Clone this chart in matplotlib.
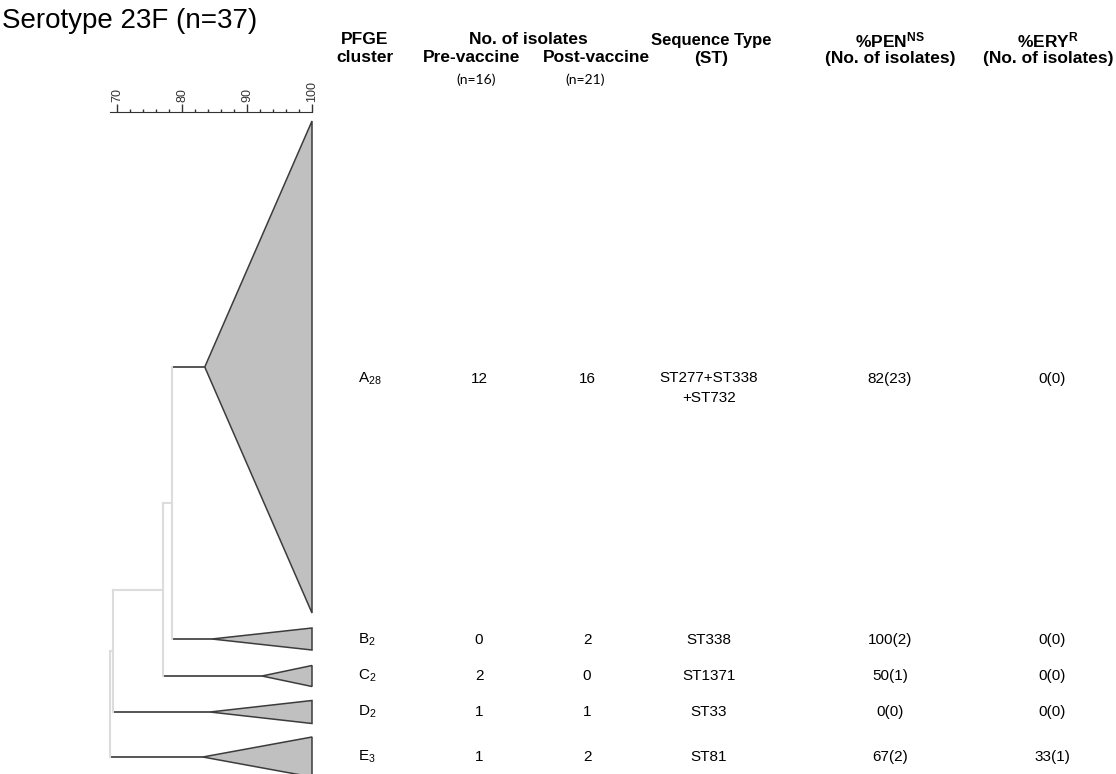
import matplotlib
matplotlib.use('Agg')
import matplotlib.pyplot as plt
from matplotlib.patches import Polygon
from matplotlib.ticker import MultipleLocator

plt.rcParams['font.family'] = ['Liberation Sans', 'DejaVu Sans']
plt.rcParams['mathtext.fontset'] = 'custom'
plt.rcParams['mathtext.rm'] = 'Liberation Sans'
plt.rcParams['mathtext.bf'] = 'Liberation Sans:bold'
plt.rcParams['mathtext.it'] = 'Liberation Sans:italic'

# table data
clusters = ['A', 'B', 'C', 'D', 'E']
cluster_n = [28, 2, 2, 2, 3]
pre_vaccine = [12, 0, 2, 1, 1]
post_vaccine = [16, 2, 0, 1, 2]
seq_types = ['ST277+ST338\n+ST732', 'ST338', 'ST1371', 'ST33', 'ST81']
pen_pct = [82, 100, 50, 0, 67]
pen_n = [23, 2, 1, 0, 2]
ery_pct = [0, 0, 0, 0, 33]
ery_n = [0, 0, 0, 0, 1]

# dendrogram data (% similarity)
apex_sim = [83.5, 84.6, 92.3, 84.3, 83.2]   # lowest similarity inside each collapsed cluster
join_sim = [78.5, 77.1, 69.4, 68.9]         # A+B, (AB)+C, (ABC)+D, root +E

# layout (pixels)
W, H = 1116, 774
leaf_y = [367, 639, 676, 712, 757]
leaf_half = [246, 11, 10.5, 11.5, 20]
text_y = [379, 640, 676, 712, 757]
px_per_unit = 6.5
px70 = 117

fig = plt.figure(figsize=(W / 100, H / 100), dpi=100)

# dendrogram axes, x in % similarity
tree_right = 340
ax = fig.add_axes([0, 0, tree_right / W, 1])
ax.set_xlim(70 - px70 / px_per_unit, 70 + (tree_right - px70) / px_per_unit)
ax.set_ylim(H, 0)
ax.axis('off')

dark = '#484848'
light = '#dcdcdc'
for i in range(len(clusters)):
    y = leaf_y[i]
    tri = Polygon([(apex_sim[i], y), (100, y - leaf_half[i]), (100, y + leaf_half[i])],
                  closed=True, facecolor='#c0c0c0', edgecolor='#3c3c3c', lw=1.1)
    ax.add_patch(tri)

# walk the joins: each join takes the current subtree and the next leaf
cur_y = leaf_y[0]
for k, s in enumerate(join_sim):
    nxt = k + 1
    if k == 0:
        ax.plot([s, apex_sim[0]], [leaf_y[0], leaf_y[0]], color=dark, lw=1.3)
    else:
        ax.plot([s, join_sim[k - 1]], [cur_y, cur_y], color=light, lw=1.5)
    ax.plot([s, apex_sim[nxt]], [leaf_y[nxt], leaf_y[nxt]], color=dark, lw=1.3)
    ax.plot([s, s], [cur_y, leaf_y[nxt]], color=light, lw=1.5)
    cur_y = (cur_y + leaf_y[nxt]) / 2

# similarity scale
sc_left = 110
ax_sc = fig.add_axes([sc_left / W, (H - 112) / H, (px70 + 30 * px_per_unit - sc_left) / W, 0.0001])
ax_sc.set_xlim(70 - (px70 - sc_left) / px_per_unit, 100)
for sp in ['bottom', 'left', 'right']:
    ax_sc.spines[sp].set_visible(False)
ax_sc.spines['top'].set_color('#333333')
ax_sc.set_yticks([])
ax_sc.xaxis.set_major_locator(MultipleLocator(10))
ax_sc.xaxis.set_minor_locator(MultipleLocator(2))
ax_sc.tick_params(axis='x', which='both', top=True, bottom=False, labeltop=True,
                  labelbottom=False, direction='out', colors='#333333', width=1)
ax_sc.tick_params(axis='x', which='major', length=6, labelsize=9, labelrotation=90, pad=1)
ax_sc.tick_params(axis='x', which='minor', length=2.5)
ax_sc.set_xticks([70, 80, 90, 100])
ax_sc.set_xticklabels(['70', '80', '90', '100'])
ax_sc.patch.set_visible(False)

# table text
tx = fig.add_axes([0, 0, 1, 1], zorder=-1)
tx.set_xlim(0, W)
tx.set_ylim(H, 0)
tx.axis('off')

tx.text(2, 21, 'Serotype 23F (n=37)', fontsize=20, ha='left', va='center')

hdr = dict(fontsize=12.5, fontweight='bold', ha='center', va='center')
tx.text(365, 40, 'PFGE', **hdr)
tx.text(365, 58, 'cluster', **hdr)
tx.text(528, 40, 'No. of isolates', **hdr)
tx.text(472, 58, 'Pre-vaccine', **hdr)
tx.text(596, 58, 'Post-vaccine', **hdr)
tx.text(711, 40, 'Sequence Type', fontsize=12, fontweight='bold', ha='center', va='center')
tx.text(711, 58, '(ST)', **hdr)
tx.text(890, 40, r'%PEN$^{\mathbf{NS}}$', **hdr)
tx.text(890, 58, '(No. of isolates)', **hdr)
tx.text(1048, 40, r'%ERY$^{\mathbf{R}}$', **hdr)
tx.text(1048, 58, '(No. of isolates)', **hdr)
small = dict(fontsize=10, ha='center', va='center', family=['Lato', 'DejaVu Sans'])
tx.text(476, 80, '(n=16)', **small)
tx.text(585, 80, '(n=21)', **small)

cell = dict(fontsize=11, ha='center', va='center')
for i in range(len(clusters)):
    y = text_y[i]
    tx.text(358, y, clusters[i] + '$_{' + str(cluster_n[i]) + '}$', fontsize=11, ha='left', va='center')
    tx.text(479, y, str(pre_vaccine[i]), **cell)
    tx.text(587, y, str(post_vaccine[i]), **cell)
    if '\n' in seq_types[i]:
        tx.text(709, y + 9, seq_types[i], linespacing=1.5, **cell)
    else:
        tx.text(709, y, seq_types[i], **cell)
    tx.text(890, y, f'{pen_pct[i]}({pen_n[i]})', **cell)
    tx.text(1052, y, f'{ery_pct[i]}({ery_n[i]})', **cell)

fig.savefig('out.png', dpi=100)
